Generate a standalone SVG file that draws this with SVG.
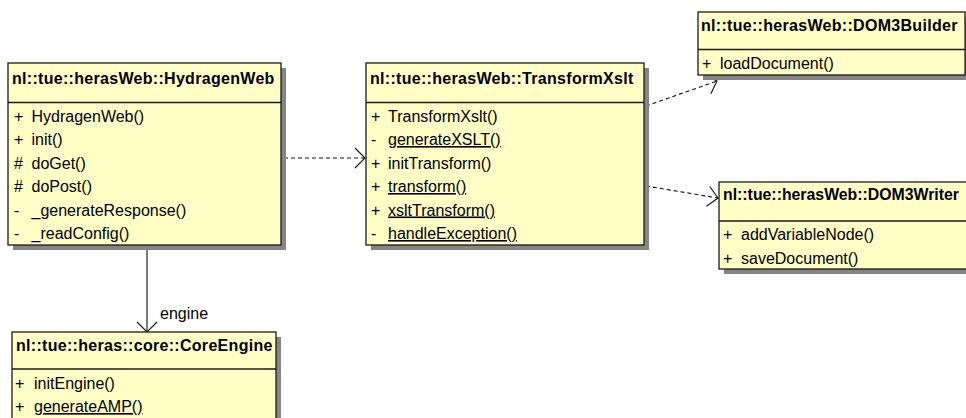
<svg xmlns="http://www.w3.org/2000/svg" width="966" height="418" viewBox="0 0 966 418">
  <style>
    .box { fill: #FFFFC6; stroke: #1a1a1a; stroke-width: 1.3; }
    .shadow { fill: #858585; }
    .sep { stroke: #1a1a1a; stroke-width: 1.3; }
    .title { font-family: "Liberation Sans", Arial, sans-serif; font-size: 16px; font-weight: bold; fill: #000; letter-spacing: 0.3px; }
    .op { font-family: "Liberation Sans", Arial, sans-serif; font-size: 16px; fill: #000; }
    .static { text-decoration: underline; }
    .dep { fill: none; stroke: #111; stroke-width: 1.1; stroke-dasharray: 4 3; }
    .assoc { fill: none; stroke: #111; stroke-width: 1.1; }
    .lbl { font-family: "Liberation Sans", Arial, sans-serif; font-size: 16px; fill: #000; }
  </style>
  <defs>
    <marker id="open" markerUnits="userSpaceOnUse" markerWidth="16" markerHeight="24" viewBox="-12 -12 14 24" refX="0" refY="0" orient="auto">
      <path d="M -10 -10 L 0 0 L -10 10" fill="none" stroke="#111" stroke-width="1.1"/>
    </marker>
  </defs>
  <rect width="966" height="418" fill="#fff"/>

  <!-- relationships -->
  <g id="connectors">
    <line class="dep" x1="284" y1="158" x2="365" y2="158" marker-end="url(#open)"/>
    <line class="dep" x1="646" y1="106" x2="717" y2="81" marker-end="url(#open)"/>
    <line class="dep" x1="646" y1="186" x2="718" y2="198" marker-end="url(#open)"/>
    <line class="assoc" x1="147" y1="246" x2="147" y2="332" marker-end="url(#open)"/>
    <text class="lbl" x="160" y="319">engine</text>
  </g>

  <!-- nl::tue::herasWeb::HydragenWeb -->
  <g id="HydragenWeb">
    <rect class="shadow" x="13" y="68" width="273" height="182"/>
    <rect class="box" x="8" y="63" width="273" height="182"/>
    <line class="sep" x1="8" y1="102.5" x2="281" y2="102.5"/>
    <text class="title" x="12" y="84">nl::tue::herasWeb::HydragenWeb</text>
    <text class="op" x="14" y="121.5">+</text><text class="op" x="31.5" y="121.5">HydragenWeb()</text>
    <text class="op" x="14" y="145">+</text><text class="op" x="31.5" y="145">init()</text>
    <text class="op" x="14" y="168.5">#</text><text class="op" x="31.5" y="168.5">doGet()</text>
    <text class="op" x="14" y="192">#</text><text class="op" x="31.5" y="192">doPost()</text>
    <text class="op" x="14" y="215.5">-</text><text class="op" x="31.5" y="215.5">_generateResponse()</text>
    <text class="op" x="14" y="239">-</text><text class="op" x="31.5" y="239">_readConfig()</text>
  </g>

  <!-- nl::tue::herasWeb::TransformXslt -->
  <g id="TransformXslt">
    <rect class="shadow" x="371" y="68" width="278" height="182"/>
    <rect class="box" x="366" y="63" width="278" height="182"/>
    <line class="sep" x1="366" y1="102.5" x2="644" y2="102.5"/>
    <text class="title" x="370" y="84">nl::tue::herasWeb::TransformXslt</text>
    <text class="op" x="371" y="121.5">+</text><text class="op" x="388" y="121.5">TransformXslt()</text>
    <text class="op" x="371" y="145">-</text><text class="op static" x="388" y="145">generateXSLT()</text>
    <text class="op" x="371" y="168.5">+</text><text class="op" x="388" y="168.5">initTransform()</text>
    <text class="op" x="371" y="192">+</text><text class="op static" x="388" y="192">transform()</text>
    <text class="op" x="371" y="215.5">+</text><text class="op static" x="388" y="215.5">xsltTransform()</text>
    <text class="op" x="371" y="239">-</text><text class="op static" x="388" y="239">handleException()</text>
  </g>

  <!-- nl::tue::herasWeb::DOM3Builder -->
  <g id="DOM3Builder">
    <rect class="shadow" x="703" y="17" width="267" height="63"/>
    <rect class="box" x="698" y="12" width="267" height="63"/>
    <line class="sep" x1="698" y1="49.5" x2="965" y2="49.5"/>
    <text class="title" x="701" y="31">nl::tue::herasWeb::DOM3Builder</text>
    <text class="op" x="702" y="68.5">+</text><text class="op" x="720" y="68.5">loadDocument()</text>
  </g>

  <!-- nl::tue::herasWeb::DOM3Writer (runs past the right edge) -->
  <g id="DOM3Writer">
    <rect class="shadow" x="724" y="187" width="260" height="87"/>
    <rect class="box" x="719" y="182" width="260" height="87"/>
    <line class="sep" x1="719" y1="221" x2="979" y2="221"/>
    <text class="title" x="723" y="200" style="letter-spacing:0" textLength="236" lengthAdjust="spacingAndGlyphs">nl::tue::herasWeb::DOM3Writer</text>
    <text class="op" x="723" y="240">+</text><text class="op" x="741" y="240">addVariableNode()</text>
    <text class="op" x="723" y="263.5">+</text><text class="op" x="741" y="263.5">saveDocument()</text>
  </g>

  <!-- nl::tue::heras::core::CoreEngine (runs past the bottom edge) -->
  <g id="CoreEngine">
    <rect class="shadow" x="17" y="337" width="264" height="100"/>
    <rect class="box" x="12" y="332" width="264" height="100"/>
    <line class="sep" x1="12" y1="369" x2="276" y2="369"/>
    <text class="title" x="16" y="351">nl::tue::heras::core::CoreEngine</text>
    <text class="op" x="15" y="389">+</text><text class="op" x="34" y="389">initEngine()</text>
    <text class="op" x="15" y="412">+</text><text class="op static" x="34" y="412">generateAMP()</text>
  </g>
</svg>
